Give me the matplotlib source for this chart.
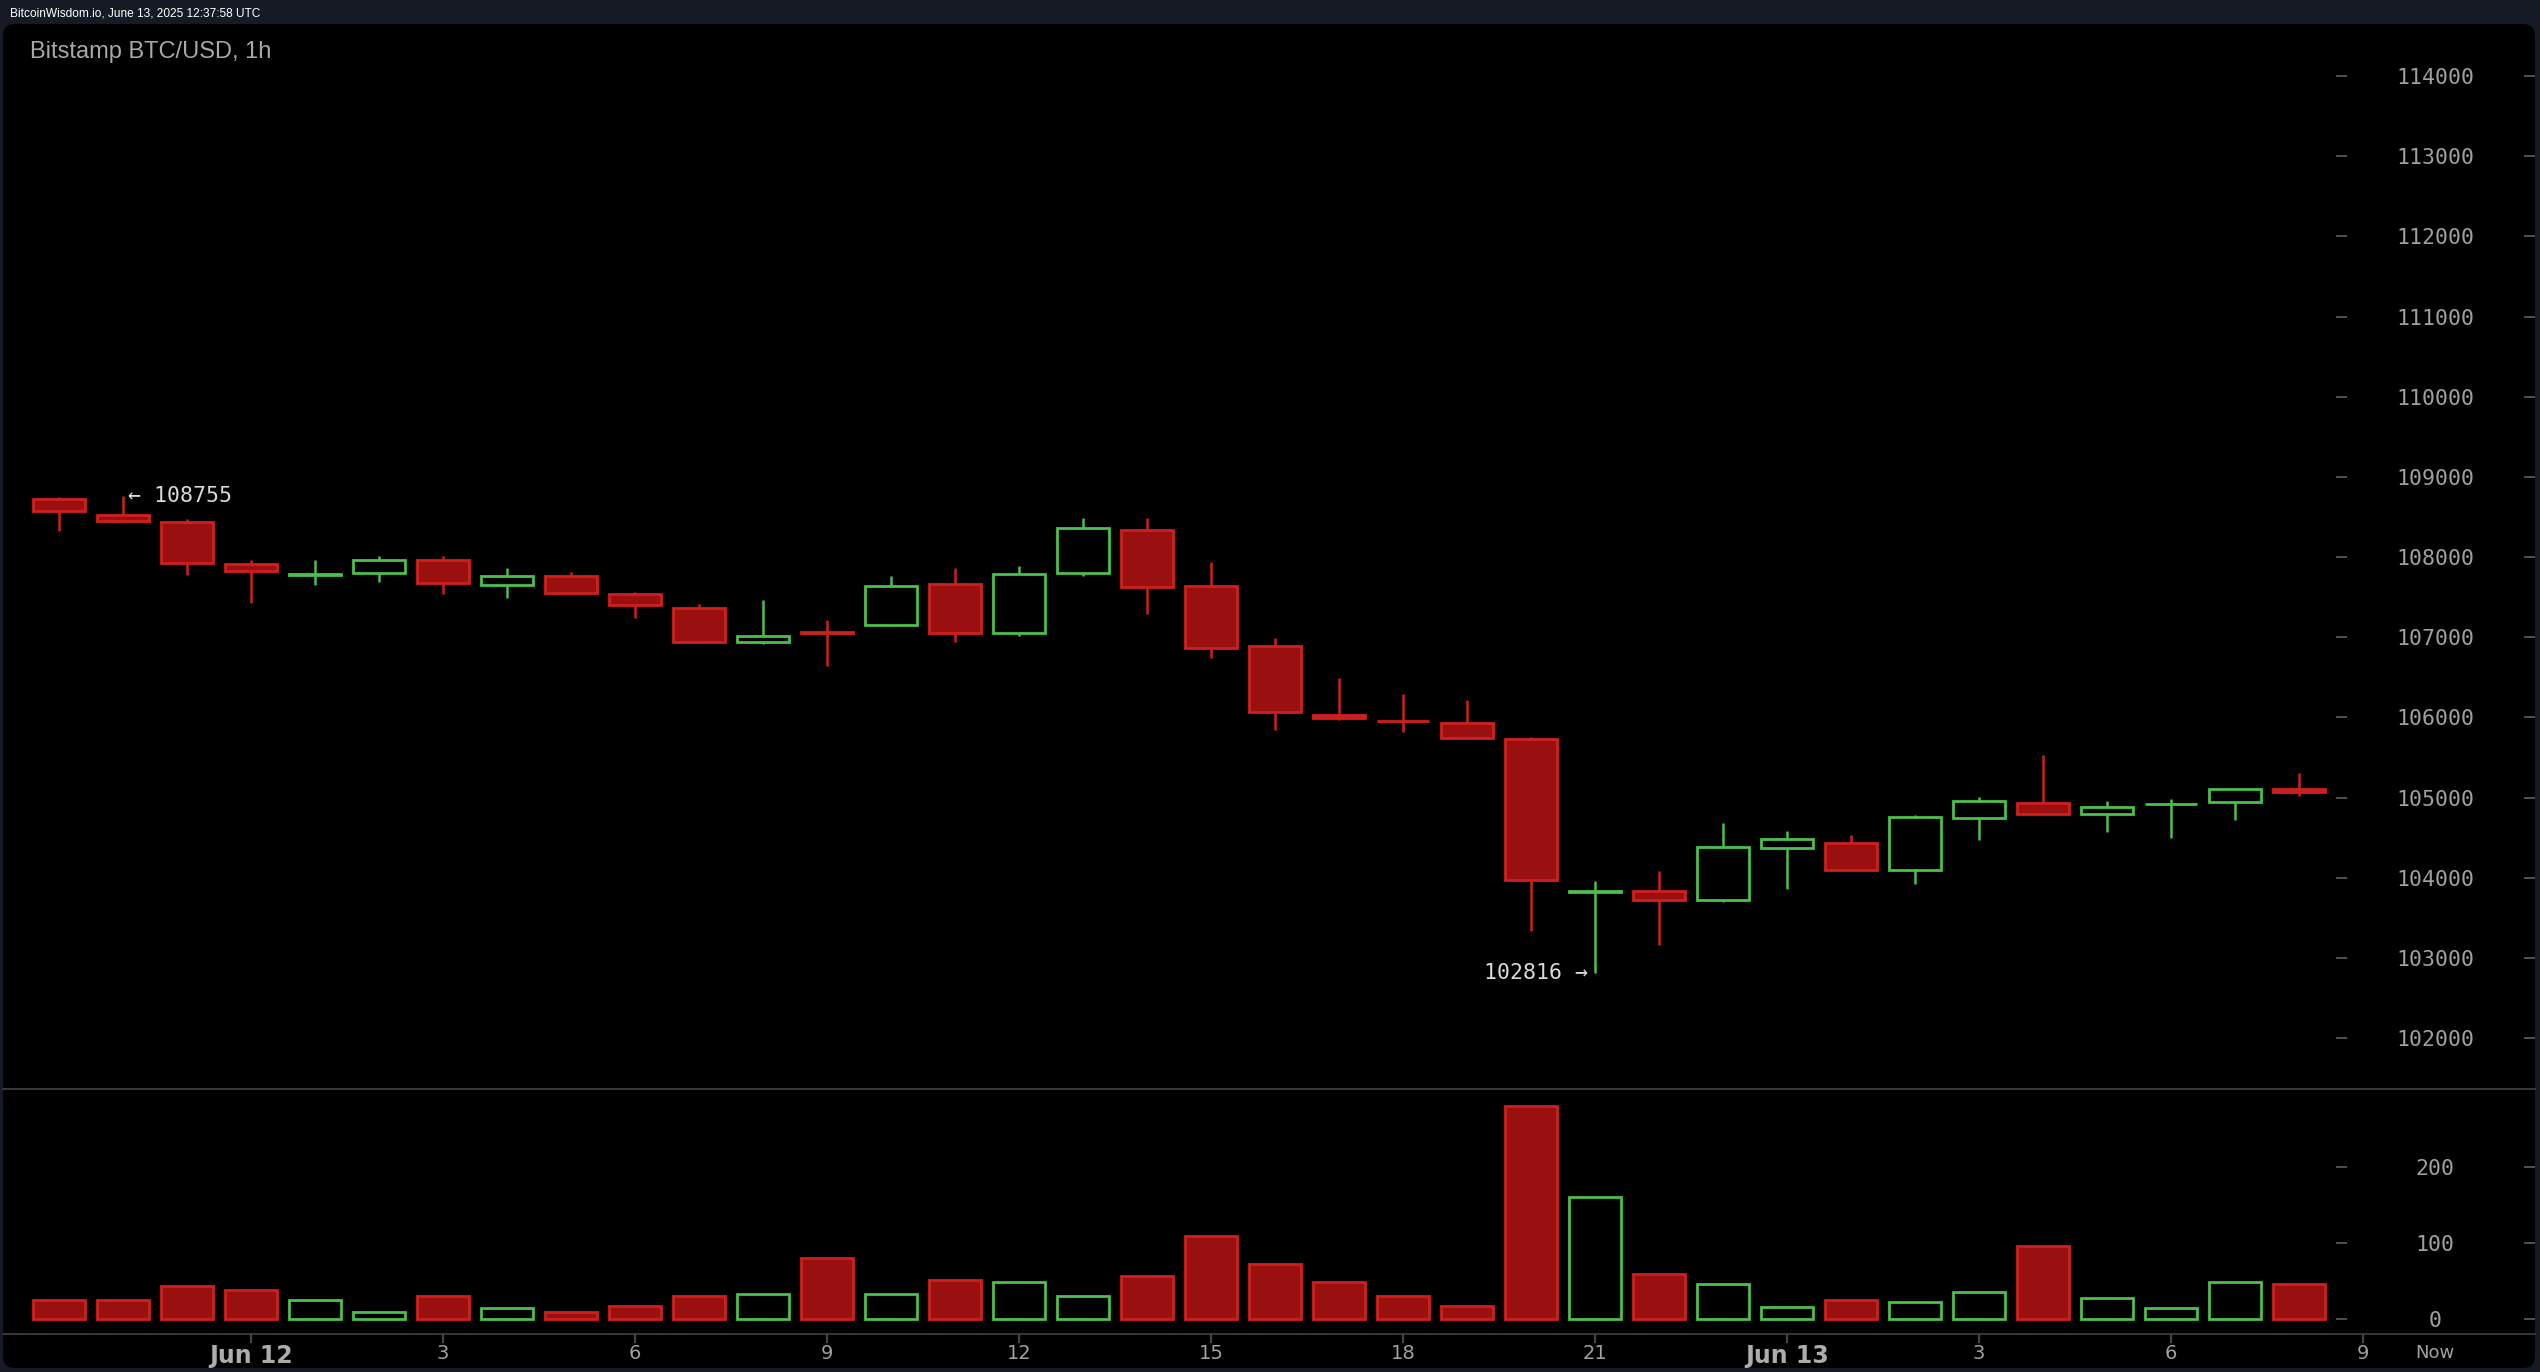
import matplotlib
matplotlib.use("Agg")
import matplotlib.pyplot as plt
from matplotlib.patches import FancyBboxPatch

# ---- data (hours relative to Jun 12 00:00 UTC) ----
hours = list(range(-3, 33))
opens = [108729, 108529, 108434, 107909, 107775, 107796, 107959, 107646, 107759,
         107534, 107359, 106946, 107060, 107146, 107659, 107046, 107796, 108334,
         107634, 106884, 106034, 105960, 105929, 105734, 103820, 103829, 103721,
         104371, 104434, 104100, 104750, 104929, 104796, 104915, 104946, 105109]
highs = [108745, 108755, 108479, 107959, 107959, 108009, 108009, 107859, 107809,
         107559, 107416, 107462, 107212, 107762, 107862, 107887, 108487, 108487,
         107937, 106987, 106487, 106287, 106212, 105754, 103959, 104084, 104687,
         104587, 104537, 104787, 105009, 105534, 104959, 104987, 105110, 105312]
lows = [108320, 108440, 107771, 107421, 107646, 107691, 107541, 107491, 107540,
        107241, 106940, 106916, 106637, 107140, 106941, 107016, 107766, 107291,
        106741, 105841, 105966, 105816, 105740, 103341, 102816, 103166, 103696,
        103862, 104090, 103916, 104466, 104790, 104566, 104491, 104716, 105016]
closes = [108571, 108446, 107921, 107821, 107780, 107959, 107671, 107759, 107546,
          107396, 106946, 107009, 107050, 107634, 107046, 107784, 108359, 107621,
          106871, 106071, 105991, 105950, 105746, 103975, 103830, 103721, 104379,
          104479, 104091, 104759, 104954, 104796, 104879, 104925, 105104, 105066]
volumes = [24, 24, 43, 37.5, 24, 8.4, 29.5, 13.7, 8.4, 16.4, 29.5, 32.2, 79.7, 32.2,
           50.7, 48, 29.5, 55.9, 108.7, 71.8, 48, 29.5, 16.4, 280.2, 161, 58.6, 45.4,
           15.8, 24.3, 21.6, 34.8, 95.9, 26.9, 13.7, 48, 45.4]

price_ticks = list(range(102000, 114001, 1000))
volume_ticks = [0, 100, 200]
x_tick_pos = [0, 3, 6, 9, 12, 15, 18, 21, 24, 27, 30, 33, 34.125]
x_tick_labels = ["Jun 12", "3", "6", "9", "12", "15", "18", "21", "Jun 13", "3", "6", "9", "Now"]
high_label = "← 108755"
low_label = "102816 →"

# ---- style ----
W, H = 2540, 1372
BG = "#151a25"
RED_FILL = "#9a0f10"
RED_EDGE = "#d01f1f"
GREEN = "#4cbf4c"
TICK_COL = "#575757"
LABEL_COL = "#a0a0a0"
MONO = "DejaVu Sans Mono"

fig = plt.figure(figsize=(W / 100, H / 100), dpi=100, facecolor=BG)

panel = FancyBboxPatch((0.03, 0.04), 25.32, 13.44,
                       boxstyle="round,pad=0,rounding_size=0.12",
                       transform=fig.dpi_scale_trans, facecolor="#000000",
                       edgecolor="none", zorder=0)
fig.add_artist(panel)

fig.text(10 / W, 1 - 13 / H, "BitcoinWisdom.io, June 13, 2025 12:37:58 UTC",
         color="white", fontsize=8.6, family="Liberation Sans", va="center", ha="left")
fig.text(30 / W, 1 - 52 / H, "Bitstamp BTC/USD, 1h", color="#a8a8a8",
         fontsize=17, family="Liberation Sans", va="center", ha="left")

xlim = (-3.875, 35.6875)
up = [c >= o for o, c in zip(opens, closes)]
fills = ["#000000" if u else RED_FILL for u in up]
edges = [GREEN if u else RED_EDGE for u in up]

# ---- price axes ----
ax = fig.add_axes([3 / W, 1 - 1089 / H, 2532 / W, 1065 / H])
ax.set_facecolor("none")
ax.set_xlim(*xlim)
ax.set_ylim(101364, 114649)
ax.vlines(hours, lows, highs, colors=edges, linewidth=1.8, zorder=1)
bottoms = [min(o, c) for o, c in zip(opens, closes)]
heights = [max(abs(c - o), 8) for o, c in zip(opens, closes)]
ax.bar(hours, heights, bottom=bottoms, width=0.82, color=fills, edgecolor=edges,
       linewidth=2.0, zorder=2)
for s in ax.spines.values():
    s.set_visible(False)
ax.tick_params(axis="x", bottom=False, labelbottom=False)
ax.set_yticks(price_ticks)
ax.yaxis.tick_right()
ax.tick_params(axis="y", direction="in", length=8, width=1.3, color=TICK_COL,
               pad=-72, labelsize=15.5, labelcolor=LABEL_COL)
for t in ax.yaxis.get_major_ticks():
    t.label2.set_ha("center")
    t.label2.set_fontfamily(MONO)
ax.hlines(price_ticks, 0.9214, 0.9258, transform=ax.get_yaxis_transform(),
          colors=TICK_COL, linewidth=1.3)

i_hi = highs.index(max(highs))
i_lo = lows.index(min(lows))
ax.annotate(high_label, xy=(hours[i_hi], highs[i_hi]), xytext=(3.6, 0),
            textcoords="offset points", ha="left", va="center", color="#dadada",
            fontsize=15.5, family=MONO)
ax.annotate(low_label, xy=(hours[i_lo], lows[i_lo]), xytext=(-5.4, 0),
            textcoords="offset points", ha="right", va="center", color="#dadada",
            fontsize=15.5, family=MONO)

# ---- volume axes ----
axv = fig.add_axes([3 / W, 1 - 1334 / H, 2532 / W, 245 / H])
axv.set_facecolor("none")
axv.set_xlim(*xlim)
axv.set_ylim(-20.2, 303)
axv.bar(hours, volumes, bottom=0, width=0.82, color=fills, edgecolor=edges,
        linewidth=2.0, zorder=2)
for k in ("left", "right"):
    axv.spines[k].set_visible(False)
for k in ("top", "bottom"):
    axv.spines[k].set_color("#3c3c3c")
    axv.spines[k].set_linewidth(1.3)
axv.set_yticks(volume_ticks)
axv.yaxis.tick_right()
axv.tick_params(axis="y", direction="in", length=8, width=1.3, color=TICK_COL,
                pad=-72, labelsize=15.5, labelcolor=LABEL_COL)
for t in axv.yaxis.get_major_ticks():
    t.label2.set_ha("center")
    t.label2.set_fontfamily(MONO)
axv.hlines(volume_ticks, 0.9214, 0.9258, transform=axv.get_yaxis_transform(),
           colors=TICK_COL, linewidth=1.3)

axv.set_xticks(x_tick_pos)
axv.set_xticklabels(x_tick_labels)
axv.tick_params(axis="x", direction="out", length=6.5, width=1.2, color=TICK_COL,
                pad=1, labelsize=14, labelcolor=LABEL_COL)
xticks = axv.xaxis.get_major_ticks()
for t, lab in zip(xticks, x_tick_labels):
    t.label1.set_fontfamily("DejaVu Sans")
    if lab.startswith("Jun"):
        t.label1.set_fontweight("bold")
        t.label1.set_fontsize(17)
        t.label1.set_color("#adadad")
    if lab == "Now":
        t.label1.set_fontsize(13)
xticks[-1].tick1line.set_visible(False)

fig.savefig("out.png", dpi=100, facecolor=BG)
